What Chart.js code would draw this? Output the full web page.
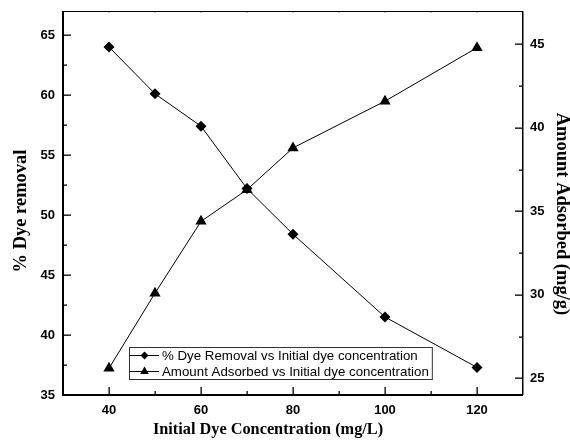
<!DOCTYPE html>
<html>
<head>
<meta charset="utf-8">
<script src="https://cdn.jsdelivr.net/npm/chart.js@4/dist/chart.umd.min.js"></script>
<style>
  html, body { margin: 0; padding: 0; background: #fff; }
  #wrap { width: 570px; height: 445px; position: relative; }
</style>
</head>
<body>
<div id="wrap"><canvas id="chart"></canvas></div>
<script>
// initial dye concentration (mg/L)
const concentrations = [40, 50, 60, 70, 80, 100, 120];
// % dye removal (left axis)
const dyeRemoval = [64.0, 60.1, 57.4, 52.2, 48.4, 41.5, 37.3];
// amount adsorbed, mg/g (right axis)
const amountAdsorbed = [25.6, 30.1, 34.4, 36.3, 38.8, 41.6, 44.8];

// tick labels
const xTicks = [40, 60, 80, 100, 120];
const leftTicks = [35, 40, 45, 50, 55, 60, 65];
const rightTicks = [25, 30, 35, 40, 45];

const labelRemoval = "% Dye Removal vs Initial dye concentration";
const labelAdsorbed = "Amount Adsorbed vs Initial dye concentration";

const tickFont = { family: "'Liberation Sans', Arial, sans-serif", weight: 'bold', size: 13 };
const serif = "'Liberation Serif', 'Times New Roman', serif";

function pts(ys) {
  return concentrations.map((x, i) => ({ x: x, y: ys[i] }));
}
function mids(arr) {
  let out = [];
  for (let i = 0; i < arr.length - 1; i++) out.push((arr[i] + arr[i + 1]) / 2);
  return out;
}

// marker drawing (legend)
function marker(ctx, style, x, y, r) {
  ctx.beginPath();
  if (style === 'rectRot') {
    ctx.moveTo(x, y - r); ctx.lineTo(x + r, y); ctx.lineTo(x, y + r); ctx.lineTo(x - r, y);
  } else {
    ctx.moveTo(x, y - r); ctx.lineTo(x + r * 0.866, y + r / 2); ctx.lineTo(x - r * 0.866, y + r / 2);
  }
  ctx.closePath();
  ctx.fill();
}

// frame, inward ticks, axis titles, legend
const framePlugin = {
  id: 'frame',
  afterDatasetsDraw(chart) {
    const ctx = chart.ctx;
    const a = chart.chartArea;
    const sx = chart.scales.x, sl = chart.scales.y, sr = chart.scales.y1;
    ctx.save();
    ctx.fillStyle = '#000';
    // axes lines
    ctx.fillRect(a.left - 1, a.top, 2, a.bottom - a.top + 1);
    ctx.fillRect(a.left - 1, a.bottom - 1, a.right - a.left + 1, 2);
    ctx.fillRect(a.left, a.top, a.right - a.left, 1);
    ctx.fillRect(a.right - 1, a.top, 1.5, a.bottom - a.top);

    // x ticks (bottom, inward) and small top marks
    xTicks.forEach(v => {
      const px = Math.round(sx.getPixelForValue(v));
      ctx.fillRect(px - 0.5, a.bottom - 8, 1.3, 8);
      ctx.fillStyle = '#999';
      ctx.fillRect(px - 0.5, a.top + 1, 1, 1);
      ctx.fillStyle = '#000';
    });
    mids(xTicks).forEach(v => {
      const px = Math.round(sx.getPixelForValue(v));
      ctx.fillRect(px - 0.5, a.bottom - 4, 1.3, 4);
      ctx.fillStyle = '#999';
      ctx.fillRect(px - 0.5, a.top + 1, 1, 1);
      ctx.fillStyle = '#000';
    });
    // left ticks
    leftTicks.forEach(v => {
      const py = Math.round(sl.getPixelForValue(v));
      ctx.fillRect(a.left, py - 0.5, 8, 1.3);
    });
    mids(leftTicks).forEach(v => {
      const py = Math.round(sl.getPixelForValue(v));
      ctx.fillRect(a.left, py - 0.5, 4, 1.3);
    });
    // right ticks
    rightTicks.forEach(v => {
      const py = Math.round(sr.getPixelForValue(v));
      ctx.fillRect(a.right - 8, py - 0.5, 8, 1.3);
    });
    mids(rightTicks).forEach(v => {
      const py = Math.round(sr.getPixelForValue(v));
      ctx.fillRect(a.right - 4, py - 0.5, 4, 1.3);
    });

    // axis titles
    ctx.textAlign = 'center';
    ctx.textBaseline = 'middle';
    ctx.font = "bold 16.3px " + serif;
    ctx.fillText('Initial Dye Concentration (mg/L)', 268, 430);
    ctx.font = "bold 18.5px " + serif;
    ctx.save();
    ctx.translate(21, 211);
    ctx.rotate(-Math.PI / 2);
    ctx.fillText('% Dye removal', 0, 0);
    ctx.restore();
    ctx.save();
    ctx.translate(562, 214);
    ctx.rotate(Math.PI / 2);
    ctx.fillText('Amount Adsorbed (mg/g)', 0, 0);
    ctx.restore();

    // legend box
    ctx.font = "13.3px 'Liberation Sans', Arial, sans-serif";
    ctx.textAlign = 'left';
    const x0 = 129, y0 = 347, rowH = 16;
    const ds = chart.data.datasets;
    let tw = 0;
    ds.forEach(d => { tw = Math.max(tw, ctx.measureText(d.label).width); });
    const bw = 33 + tw + 3;
    ctx.fillStyle = '#fff';
    ctx.fillRect(x0, y0, bw, rowH * 2);
    ctx.strokeStyle = '#333';
    ctx.lineWidth = 1;
    ctx.strokeRect(x0 + 0.5, y0 + 0.5, bw, rowH * 2);
    ctx.fillStyle = '#000';
    ds.forEach((d, i) => {
      const cy = y0 + 8.5 + i * rowH;
      ctx.beginPath();
      ctx.moveTo(x0 + 1, cy); ctx.lineTo(x0 + 30, cy);
      ctx.strokeStyle = '#000';
      ctx.stroke();
      marker(ctx, d.pointStyle, x0 + 15.5, cy, d.pointStyle === 'rectRot' ? 4 : 5);
      ctx.fillText(d.label, x0 + 33, cy + 0.5);
    });
    ctx.restore();
  }
};

function noPad(s) {
  s.paddingTop = 0;
  s.paddingBottom = 0;
}

const ctx = document.getElementById('chart').getContext('2d');
const chart = new Chart(ctx, {
  type: 'line',
  data: {
    datasets: [{
      label: labelRemoval,
      data: pts(dyeRemoval),
      yAxisID: 'y',
      borderColor: '#000',
      backgroundColor: '#000',
      borderWidth: 1,
      pointStyle: 'rectRot',
      pointRadius: 5.5,
      pointBorderWidth: 0,
      tension: 0
    }, {
      label: labelAdsorbed,
      data: pts(amountAdsorbed),
      yAxisID: 'y1',
      borderColor: '#000',
      backgroundColor: '#000',
      borderWidth: 1,
      pointStyle: 'triangle',
      pointRadius: 6.5,
      pointBorderWidth: 0,
      tension: 0
    }]
  },
  options: {
    responsive: true,
    maintainAspectRatio: false,
    animation: false,
    layout: { padding: { top: 11, left: 0, right: 0, bottom: 0 } },
    plugins: { legend: { display: false }, tooltip: { enabled: false } },
    scales: {
      x: {
        type: 'linear', min: 30, max: 130,
        grid: { display: false, drawTicks: false },
        border: { display: false },
        ticks: { font: tickFont, color: '#000', padding: 8, maxRotation: 0 },
        afterBuildTicks: s => { s.ticks = xTicks.map(v => ({ value: v })); },
        afterFit: s => { s.height = 50; s.paddingLeft = 0; s.paddingRight = 0; }
      },
      y: {
        position: 'left', min: 35, max: 67,
        grid: { display: false, drawTicks: false },
        border: { display: false },
        ticks: { font: tickFont, color: '#000', padding: 8 },
        afterBuildTicks: s => { s.ticks = leftTicks.map(v => ({ value: v })); },
        afterFit: s => { s.width = 63; noPad(s); }
      },
      y1: {
        position: 'right', min: 24, max: 47,
        grid: { display: false, drawTicks: false },
        border: { display: false },
        ticks: { font: tickFont, color: '#000', padding: 7 },
        afterBuildTicks: s => { s.ticks = rightTicks.map(v => ({ value: v })); },
        afterFit: s => { s.width = 47; noPad(s); }
      }
    }
  },
  plugins: [framePlugin]
});
</script>
</body>
</html>
